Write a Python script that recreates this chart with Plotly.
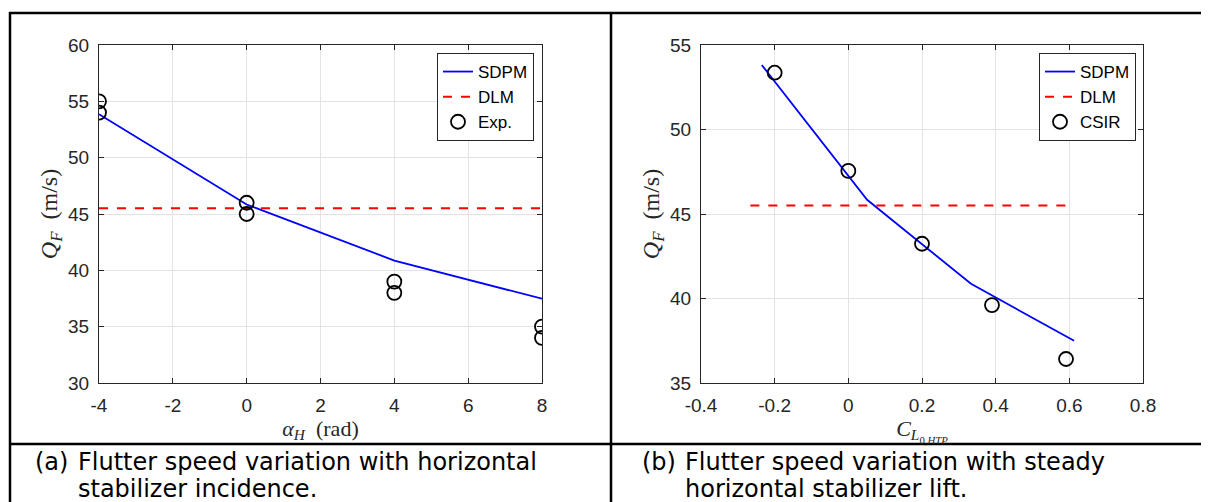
import plotly.graph_objects as go

# panel (a): flutter speed vs horizontal stabilizer incidence
alpha_sdpm = [-4, 0, 4, 8]
q_sdpm_a = [53.85, 45.84, 40.87, 37.48]
alpha_dlm = [-4, 8]
q_dlm_a = [45.5, 45.5]
alpha_exp = [-4, -4, 0, 0, 4, 4, 8, 8]
q_exp = [55, 54, 46, 45, 39, 38, 35, 34]

# panel (b): flutter speed vs steady HTP lift
cl_sdpm = [-0.235, 0.051, 0.333, 0.613]
q_sdpm_b = [53.82, 45.84, 40.87, 37.5]
cl_dlm = [-0.266, 0.594]
q_dlm_b = [45.5, 45.5]
cl_csir = [-0.2, 0.0, 0.2, 0.39, 0.591]
q_csir = [53.36, 47.55, 43.24, 39.61, 36.42]

xticks_a = [-4, -2, 0, 2, 4, 6, 8]
xlabels_a = ["-4", "-2", "0", "2", "4", "6", "8"]
yticks_a = [30, 35, 40, 45, 50, 55, 60]
xticks_b = [-0.4, -0.2, 0, 0.2, 0.4, 0.6, 0.8]
xlabels_b = ["-0.4", "-0.2", "0", "0.2", "0.4", "0.6", "0.8"]
yticks_b = [35, 40, 45, 50, 55]

# the page body has an 8px margin, so the figure is made smaller and
# positions below are given in page pixels and converted here
OFF = 8
W, H = 1209 - OFF, 502 - OFF


def px(x):
    return (x - OFF) / W


def py(y):
    return 1 - (y - OFF) / H


AX = "#262626"
GRID = "#e3e3e3"
tickfont = dict(family="Liberation Sans, Arial", size=19, color=AX)
ytitlefont = dict(family="Liberation Serif, DejaVu Serif, serif", size=24, color=AX)
xtitlefont = dict(family="Liberation Serif, DejaVu Serif, serif", size=22, color=AX)

fig = go.Figure()

# left panel
fig.add_trace(go.Scatter(x=alpha_sdpm, y=q_sdpm_a, mode="lines", name="SDPM",
                         line=dict(color="#0000ff", width=1.8), legend="legend"))
fig.add_trace(go.Scatter(x=alpha_dlm, y=q_dlm_a, mode="lines", name="DLM",
                         line=dict(color="#ff0000", width=2, dash="dash"), legend="legend"))
fig.add_trace(go.Scatter(x=alpha_exp, y=q_exp, mode="markers", name="Exp.",
                         marker=dict(symbol="circle-open", size=14, color="black",
                                     line=dict(width=1.8, color="black")),
                         legend="legend"))

# right panel
fig.add_trace(go.Scatter(x=cl_sdpm, y=q_sdpm_b, mode="lines", name="SDPM",
                         line=dict(color="#0000ff", width=1.8),
                         xaxis="x2", yaxis="y2", legend="legend2"))
fig.add_trace(go.Scatter(x=cl_dlm, y=q_dlm_b, mode="lines", name="DLM",
                         line=dict(color="#ff0000", width=2, dash="dash"),
                         xaxis="x2", yaxis="y2", legend="legend2"))
fig.add_trace(go.Scatter(x=cl_csir, y=q_csir, mode="markers", name="CSIR",
                         marker=dict(symbol="circle-open", size=14, color="black",
                                     line=dict(width=1.8, color="black")),
                         xaxis="x2", yaxis="y2", legend="legend2"))

axis_common = dict(showline=True, linecolor=AX, linewidth=1, mirror="ticks",
                   ticks="inside", ticklen=5, tickcolor=AX, showgrid=True,
                   gridcolor=GRID, gridwidth=1, zeroline=False, tickfont=tickfont,
                   automargin=False)

legfont = dict(family="Liberation Sans, Arial", size=17, color="black")

fig.update_layout(
    width=W, height=H,
    margin=dict(l=0, r=0, t=0, b=0, autoexpand=False),
    paper_bgcolor="white", plot_bgcolor="white",
    xaxis=dict(domain=[px(99), px(542)], range=[-4, 8], tickvals=xticks_a,
               ticktext=xlabels_a, anchor="y", ticklabelstandoff=5,
               title=dict(text="<i>α<sub>H</sub></i>  (rad)", font=xtitlefont, standoff=0),
               **axis_common),
    yaxis=dict(domain=[py(383), py(45)], range=[30, 60], tickvals=yticks_a, anchor="x",
               ticklabelstandoff=5,
               title=dict(text="<i>Q<sub>F</sub></i>  (m/s)", font=ytitlefont, standoff=3),
               **axis_common),
    xaxis2=dict(domain=[px(701), px(1143)], range=[-0.4, 0.8], tickvals=xticks_b,
                ticktext=xlabels_b, anchor="y2", ticklabelstandoff=5,
                title=dict(text="<i>C</i><sub><i>L</i><sub>0,<i>HTP</i></sub></sub>",
                           font=xtitlefont, standoff=0),
                **axis_common),
    yaxis2=dict(domain=[py(383), py(45)], range=[35, 55], tickvals=yticks_b, anchor="x2",
                ticklabelstandoff=5,
                title=dict(text="<i>Q<sub>F</sub></i>  (m/s)", font=ytitlefont, standoff=3),
                **axis_common),
    legend=dict(x=px(534), y=py(53), xanchor="right", yanchor="top",
                bgcolor="white", bordercolor=AX, borderwidth=1,
                font=legfont, tracegroupgap=0),
    legend2=dict(x=px(1136), y=py(53), xanchor="right", yanchor="top",
                 bgcolor="white", bordercolor=AX, borderwidth=1,
                 font=legfont, tracegroupgap=0),
)

# table borders around the two panels
line = dict(color="black", width=2.5)
fig.add_shape(type="line", xref="paper", yref="paper", x0=px(9), x1=1, y0=py(13), y1=py(13), line=line)
fig.add_shape(type="line", xref="paper", yref="paper", x0=px(9), x1=1, y0=py(444), y1=py(444), line=line)
fig.add_shape(type="line", xref="paper", yref="paper", x0=px(10), x1=px(10), y0=0, y1=py(12), line=line)
fig.add_shape(type="line", xref="paper", yref="paper", x0=px(611), x1=px(611), y0=0, y1=py(12), line=line)

# captions
capfont = dict(family="DejaVu Sans", size=24, color="black")
captions = [
    (33, 462, "(a)"), (76, 462, "Flutter speed variation with horizontal"),
    (76, 489, "stabilizer incidence."),
    (640, 462, "(b)"), (683, 462, "Flutter speed variation with steady"),
    (683, 489, "horizontal stabilizer lift."),
]
for cx, cy, txt in captions:
    fig.add_annotation(text=txt, xref="paper", yref="paper", x=px(cx), y=py(cy),
                       xanchor="left", yanchor="middle", showarrow=False, font=capfont)

fig.write_html("out.html")
